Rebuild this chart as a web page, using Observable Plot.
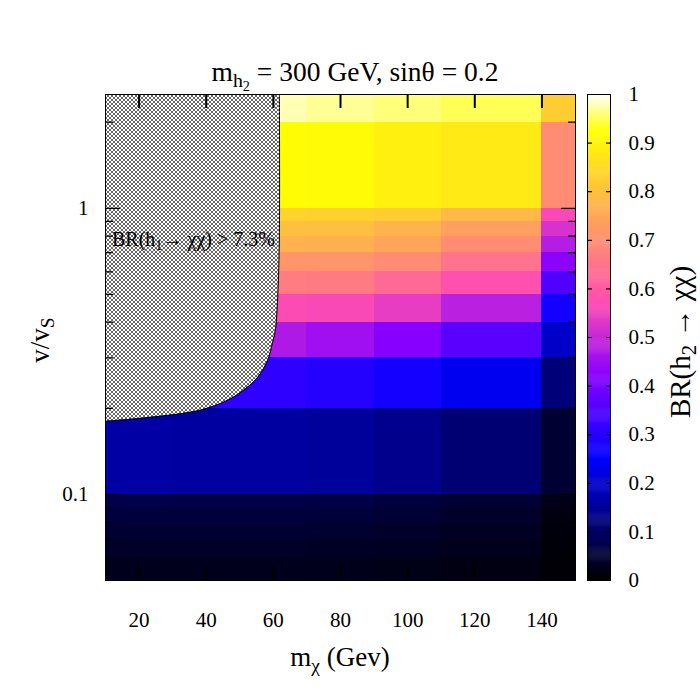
<!DOCTYPE html>
<html><head><meta charset="utf-8">
<script src="https://cdn.jsdelivr.net/npm/d3@7"></script>
<script src="https://cdn.jsdelivr.net/npm/@observablehq/plot@0.6"></script>
<style>
body{margin:0;background:#fff;}
#wrap{position:relative;width:700px;height:700px;font-family:"Liberation Serif",serif;color:#000;overflow:hidden;}
#wrap svg{position:absolute;top:0;}
.lbl{position:absolute;white-space:nowrap;line-height:1;}
.lbl sub{font-size:0.72em;vertical-align:-0.3em;line-height:0;}
</style></head><body>
<svg width="0" height="0" style="position:absolute"><defs>
<pattern id="hatch" width="4" height="4" patternUnits="userSpaceOnUse">
<rect width="4" height="4" fill="#fff"/>
<path d="M0,0L4,4M4,0L0,4" stroke="#000" stroke-width="0.6"/>
</pattern></defs></svg>
<div id="wrap"></div>
<script>
// ---- data ----
const xDomain = [10, 150];
const yDomain = [0.05, 2.5];
const xEdges = [10, 30, 70, 90, 110, 140, 150];
const yEdges = [0.05, 0.06, 0.07, 0.08, 0.09, 0.1, 0.2, 0.3, 0.4, 0.5, 0.6, 0.7, 0.8, 0.9, 1, 2, 2.5];
// BR(h2 -> chi chi), one row per v/vS band (bottom to top), one value per m_chi band
const br005 = [0.028, 0.027, 0.026, 0.023, 0.018, 0.006];
const br006 = [0.040, 0.039, 0.037, 0.033, 0.026, 0.009];
const br007 = [0.050, 0.049, 0.047, 0.042, 0.034, 0.012];
const br008 = [0.060, 0.059, 0.057, 0.051, 0.041, 0.016];
const br009 = [0.074, 0.072, 0.069, 0.061, 0.050, 0.022];
const br01  = [0.162, 0.157, 0.152, 0.137, 0.113, 0.049];
const br02  = [0.310, 0.306, 0.294, 0.275, 0.235, 0.118];
const br03  = [0.470, 0.470, 0.450, 0.420, 0.363, 0.196];
const br04  = [0.567, 0.567, 0.563, 0.539, 0.482, 0.275];
const br05  = [0.665, 0.665, 0.662, 0.626, 0.577, 0.350];
const br06  = [0.714, 0.714, 0.712, 0.695, 0.645, 0.426];
const br07  = [0.769, 0.769, 0.765, 0.743, 0.695, 0.476];
const br08  = [0.796, 0.796, 0.794, 0.773, 0.734, 0.520];
const br09  = [0.832, 0.832, 0.830, 0.822, 0.783, 0.564];
const br1   = [0.914, 0.914, 0.910, 0.890, 0.878, 0.695];
const br2   = [0.977, 0.977, 0.967, 0.958, 0.947, 0.822];
const brRows = [br005, br006, br007, br008, br009, br01, br02, br03, br04, br05, br06, br07, br08, br09, br1, br2];
// excluded region boundary BR(h1 -> chi chi) > 7.3%
const boundaryX = [10, 23.4, 38.3, 46.3, 51.1, 55.3, 58.3, 59.7, 60.6, 61.1, 61.5, 61.8, 61.8];
const boundaryY = [0.180, 0.186, 0.197, 0.213, 0.231, 0.256, 0.294, 0.337, 0.374, 0.44, 0.56, 0.80, 2.5];
const xTicks = [20, 40, 60, 80, 100, 120, 140];
const yMajor = [0.1, 1];
const yMinor = [0.05, 0.06, 0.07, 0.08, 0.09, 0.2, 0.3, 0.4, 0.5, 0.6, 0.7, 0.8, 0.9, 2];
const cbTicks = [0, 0.1, 0.2, 0.3, 0.4, 0.5, 0.6, 0.7, 0.8, 0.9, 1];

// gnuplot rgbformulae 30,31,32
function pal(t) {
  const c = v => Math.max(0, Math.min(1, v));
  const r = c(t / 0.32 - 0.78125), g = c(2 * t - 0.84);
  let b;
  if (t < 0.25) b = 4 * t; else if (t < 0.42) b = 1; else if (t < 0.92) b = -2 * t + 1.84; else b = t / 0.08 - 11.5;
  b = c(b);
  return `rgb(${Math.round(r * 255)},${Math.round(g * 255)},${Math.round(b * 255)})`;
}

const cells = [];
brRows.forEach((row, i) => row.forEach((v, j) => cells.push({x1: xEdges[j], x2: xEdges[j + 1], y1: yEdges[i], y2: yEdges[i + 1], v})));
const boundary = boundaryX.map((x, i) => ({x, y: boundaryY[i]}));

const W = 700, H = 700, mL = 105, mR = 125, mT = 94, mB = 120;
const frameH = H - mT - mB;
const majorLen = 14, minorLen = 7;

const tickShape = {draw(ctx, l) { ctx.moveTo(0, 0); ctx.lineTo(0, -l); }};
const tickOpts = (extra) => ({anchor: "start", shape: tickShape, stroke: "black", strokeWidth: 1.2, ...extra});
const colorScale = {type: "linear", domain: [0, 1], interpolate: pal};
const font = {fontFamily: "Liberation Serif", fontSize: "21px", background: "transparent", overflow: "visible"};

const main = Plot.plot({
  width: W, height: H,
  marginLeft: mL, marginRight: mR, marginTop: mT, marginBottom: mB,
  style: font,
  x: {domain: xDomain},
  y: {type: "log", domain: yDomain},
  color: colorScale,
  marks: [
    Plot.rect(cells, {x1: "x1", x2: "x2", y1: "y1", y2: "y2", fill: "v", shapeRendering: "crispEdges"}),
    Plot.areaX(boundary, {y: "y", x1: () => xDomain[0], x2: "x", fill: "url(#hatch)", curve: "catmull-rom"}),
    Plot.line(boundary, {x: "x", y: "y", stroke: "black", strokeWidth: 1, curve: "catmull-rom"}),
    Plot.axisX(xTicks, {anchor: "bottom", tickSize: 0, tickPadding: 32, label: null, fontSize: 21}),
    Plot.axisY(yMajor, {anchor: "left", tickSize: 0, tickPadding: 17, label: null, fontSize: 21, tickFormat: d => String(d)}),
    Plot.tickX(xTicks, {x: d => d, insetTop: frameH - majorLen, stroke: "#000", strokeOpacity: 1, strokeWidth: 2}),
    Plot.tickX(xTicks, {x: d => d, insetBottom: frameH - majorLen, stroke: "#000", strokeOpacity: 1, strokeWidth: 2}),
    Plot.vector(yMajor, tickOpts({y: d => d, frameAnchor: "left", rotate: 90, length: majorLen})),
    Plot.vector(yMajor, tickOpts({y: d => d, frameAnchor: "right", rotate: -90, length: majorLen})),
    Plot.vector(yMinor, tickOpts({y: d => d, frameAnchor: "left", rotate: 90, length: minorLen})),
    Plot.vector(yMinor, tickOpts({y: d => d, frameAnchor: "right", rotate: -90, length: minorLen})),
    Plot.frame({stroke: "black", strokeWidth: 1})
  ]
});

const cbStep = 0.002;
const cbStops = d3.range(0, 1, cbStep);
const cb = Plot.plot({
  width: 114, height: H,
  marginLeft: 1, marginRight: 90, marginTop: mT, marginBottom: mB,
  style: font,
  x: {domain: [0, 1], axis: null},
  y: {domain: [0, 1]},
  color: colorScale,
  marks: [
    Plot.rect(cbStops, {x1: 0, x2: 1, y1: d => d, y2: d => Math.min(1, d + cbStep * 1.5), fill: d => d}),
    Plot.axisY(cbTicks, {anchor: "right", tickSize: 0, tickPadding: 18, label: null, fontSize: 21, textAnchor: "start", tickFormat: d => String(+d.toFixed(1))}),
    Plot.vector(cbTicks, tickOpts({y: d => d, frameAnchor: "left", rotate: 90, length: 4})),
    Plot.vector(cbTicks, tickOpts({y: d => d, frameAnchor: "right", rotate: -90, length: 4})),
    Plot.frame({stroke: "black", strokeWidth: 1})
  ]
});

const wrap = document.getElementById("wrap");
main.style.left = "0px";
cb.style.left = "586px";
wrap.appendChild(main);
wrap.appendChild(cb);

function addLabel(html, css) {
  const d = document.createElement("div");
  d.className = "lbl";
  d.innerHTML = html;
  Object.assign(d.style, css);
  wrap.appendChild(d);
}
addLabel("m<sub>h<sub>2</sub></sub> = 300 GeV, sinθ = 0.2", {left: "355px", top: "58px", fontSize: "27.5px", transform: "translateX(-50%)"});
addLabel("m<sub>χ</sub> (Gev)", {left: "340px", top: "644px", fontSize: "27px", transform: "translateX(-50%)"});
addLabel("v/v<sub>S</sub>", {left: "40px", top: "340px", fontSize: "27px", transform: "translate(-50%,-50%) rotate(-90deg)"});
addLabel("BR(h<sub>2</sub> → χχ)", {left: "680px", top: "342px", fontSize: "29px", transform: "translate(-50%,-50%) rotate(-90deg)"});
addLabel("BR(h<sub>1</sub>→ χχ) > 7.3%", {left: "112px", top: "229px", fontSize: "20px"});
</script>
</body></html>
